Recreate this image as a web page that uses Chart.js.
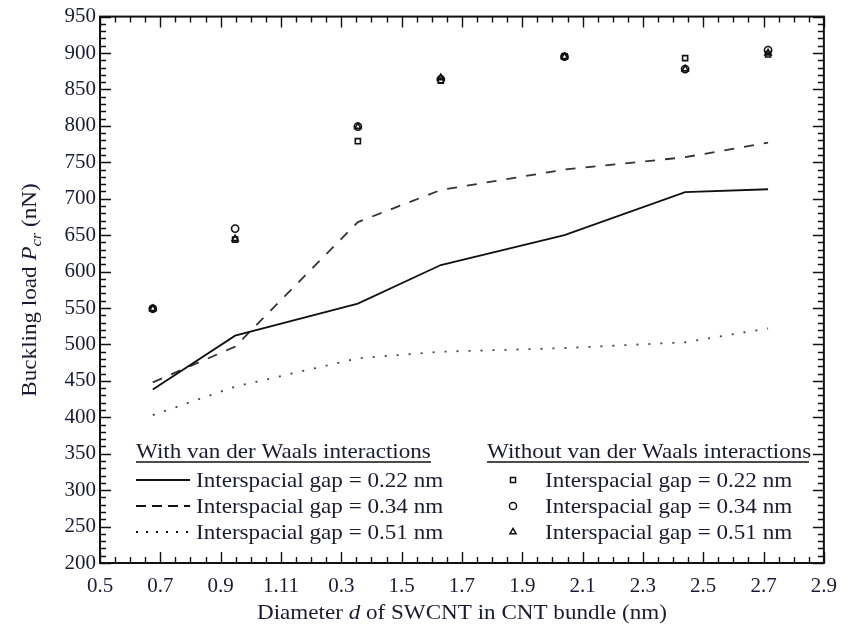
<!DOCTYPE html>
<html lang="en">
<head>
  <meta charset="UTF-8">
  <title>Buckling load of SWCNT bundle</title>
  <style>
    html, body { margin: 0; padding: 0; background: #fff; }
    #wrap { width: 848px; height: 629px; }
  </style>
  <script src="https://cdn.jsdelivr.net/npm/chart.js"></script>
</head>
<body>
  <div id="wrap"><canvas id="bucklingChart" width="848" height="629"></canvas></div>

  <script>
    // SWCNT diameter in the bundle (nm)
    const diameters = [0.675, 0.948, 1.355, 1.63, 2.04, 2.44, 2.715];

    // with van der Waals interactions (lines), buckling load in nN
    const vdwGap022 = [438, 512, 556, 609, 650, 709, 713];
    const vdwGap034 = [448, 497, 668, 712, 740, 757, 777];
    const vdwGap051 = [403, 442, 481, 490, 495, 503, 522];

    // without van der Waals interactions (markers)
    const noVdwGap022 = [549, 644, 779, 862, 895, 893, 898];
    const noVdwGap034 = [549, 659, 799, 864, 895, 878, 904];
    const noVdwGap051 = [549, 645, 799, 866, 895, 878, 900];

    // tick labels, printed as in the original figure
    const xTickLabels = ['0.5', '0.7', '0.9', '1.11', '0.3', '1.5', '1.7', '1.9', '2.1', '2.3', '2.5', '2.7', '2.9'];
    const yTickLabels = ['200', '250', '300', '350', '400', '450', '500', '550', '600', '650', '700', '750', '800', '850', '900', '950'];

    const legendLeft = ['Interspacial gap = 0.22 nm', 'Interspacial gap = 0.34 nm', 'Interspacial gap = 0.51 nm'];
    const legendRight = ['Interspacial gap = 0.22 nm', 'Interspacial gap = 0.34 nm', 'Interspacial gap = 0.51 nm'];

    const SERIF = '"Liberation Serif", "Times New Roman", serif';
    const INK = '#111';
    const TEXT = '#1c1a33';
    const STRETCH = 1.1;   // the printed figure is a bit wider than plain Times

    function toPoints(values) {
      return diameters.map((d, i) => ({ x: d, y: values[i] }));
    }

    function lineSet(label, values, dash, color) {
      return {
        label: label,
        data: toPoints(values),
        showLine: true,
        borderColor: color,
        borderWidth: 1.8,
        borderDash: dash,
        pointRadius: 0,
        tension: 0,
        fill: false
      };
    }

    function markerSet(label, values, style) {
      return {
        label: label,
        data: toPoints(values),
        showLine: false,
        pointStyle: style,
        pointRadius: 3.6,
        pointBorderWidth: 1.6,
        pointBorderColor: INK,
        pointBackgroundColor: 'rgba(255,255,255,0)'
      };
    }

    // draws a run of text pieces [text, fontPrefix, size, dy], stretched a little in x
    function drawRun(ctx, parts, x, y, centered) {
      let total = 0;
      parts.forEach(p => { ctx.font = p[1] + p[2] + 'px ' + SERIF; total += ctx.measureText(p[0]).width; });
      ctx.save();
      ctx.translate(x, y);
      ctx.scale(STRETCH, 1);
      let cx = centered ? -total / 2 : 0;
      parts.forEach(p => {
        ctx.font = p[1] + p[2] + 'px ' + SERIF;
        ctx.fillText(p[0], cx, p[3]);
        cx += ctx.measureText(p[0]).width;
      });
      ctx.restore();
    }

    // frame, inward ticks on all four sides, legend and axis titles
    const decorPlugin = {
      id: 'decor',
      afterDraw(chart) {
        const ctx = chart.ctx;
        const a = chart.chartArea;
        const xs = chart.scales.x;
        const ys = chart.scales.y;
        ctx.save();

        ctx.strokeStyle = INK;
        ctx.lineWidth = 1.4;
        ctx.beginPath();
        for (let i = 0; i <= 48; i++) {
          const px = Math.round(xs.getPixelForValue(0.5 + i * 0.05)) + 0.5;
          const len = i % 4 === 0 ? 11 : 6;
          ctx.moveTo(px, a.bottom); ctx.lineTo(px, a.bottom - len);
          ctx.moveTo(px, a.top); ctx.lineTo(px, a.top + len);
        }
        for (let i = 0; i <= 75; i++) {
          const py = Math.round(ys.getPixelForValue(200 + i * 10)) + 0.5;
          const len = i % 5 === 0 ? 11 : 6;
          ctx.moveTo(a.left, py); ctx.lineTo(a.left + len, py);
          ctx.moveTo(a.right, py); ctx.lineTo(a.right - len, py);
        }
        ctx.stroke();

        ctx.lineWidth = 2;
        ctx.strokeRect(a.left, a.top, a.right - a.left, a.bottom - a.top);

        ctx.fillStyle = TEXT;
        ctx.textBaseline = 'alphabetic';
        ctx.textAlign = 'left';

        // legend, left block (lines)
        drawRun(ctx, [['With van der Waals interactions', '', 21, 0]], 136, 458, false);
        ctx.lineWidth = 1.5;
        ctx.beginPath(); ctx.moveTo(136, 462); ctx.lineTo(431, 462); ctx.stroke();
        const dashes = [[], [10, 6], [2, 8]];
        const rowsY = [480, 506, 532];
        for (let i = 0; i < 3; i++) {
          ctx.setLineDash(dashes[i]);
          ctx.lineWidth = 1.8;
          ctx.beginPath(); ctx.moveTo(136, rowsY[i]); ctx.lineTo(190, rowsY[i]); ctx.stroke();
          ctx.setLineDash([]);
          drawRun(ctx, [[legendLeft[i], '', 21, 0]], 196, rowsY[i] + 7, false);
        }

        // legend, right block (markers)
        drawRun(ctx, [['Without van der Waals interactions', '', 21, 0]], 487, 458, false);
        ctx.lineWidth = 1.5;
        ctx.beginPath(); ctx.moveTo(487, 462); ctx.lineTo(809, 462); ctx.stroke();
        const styles = ['rect', 'circle', 'triangle'];
        for (let i = 0; i < 3; i++) {
          ctx.fillStyle = '#fff';
          ctx.strokeStyle = INK;
          ctx.lineWidth = 1.5;
          Chart.helpers.drawPoint(ctx, { pointStyle: styles[i], radius: 3.6, borderWidth: 1.5 }, 513, rowsY[i]);
          ctx.fillStyle = TEXT;
          drawRun(ctx, [[legendRight[i], '', 21, 0]], 545, rowsY[i] + 7, false);
        }

        // x axis title with italic d
        drawRun(ctx, [['Diameter ', '', 21, 0], ['d', 'italic ', 21, 0], [' of SWCNT in CNT bundle (nm)', '', 21, 0]],
          (a.left + a.right) / 2, 619, true);

        // y axis title with italic P and subscript cr
        ctx.translate(36, 290);
        ctx.rotate(-Math.PI / 2);
        drawRun(ctx, [['Buckling load ', '', 21, 0], ['P', 'italic ', 21, 0], ['cr', 'italic ', 15, 5], [' (nN)', '', 21, 0]],
          0, 0, true);

        ctx.restore();
      }
    };

    const ctx = document.getElementById('bucklingChart').getContext('2d');

    new Chart(ctx, {
      type: 'scatter',
      data: {
        datasets: [
          lineSet('With vdW, gap 0.22 nm', vdwGap022, [], INK),
          lineSet('With vdW, gap 0.34 nm', vdwGap034, [10, 10], '#333'),
          lineSet('With vdW, gap 0.51 nm', vdwGap051, [2, 10], '#444'),
          markerSet('Without vdW, gap 0.22 nm', noVdwGap022, 'rect'),
          markerSet('Without vdW, gap 0.34 nm', noVdwGap034, 'circle'),
          markerSet('Without vdW, gap 0.51 nm', noVdwGap051, 'triangle')
        ]
      },
      options: {
        responsive: false,
        devicePixelRatio: 1,
        animation: false,
        layout: { padding: { top: 16, right: 14, bottom: 0, left: 0 } },
        plugins: {
          legend: { display: false },
          tooltip: { enabled: false }
        },
        scales: {
          x: {
            type: 'linear',
            min: 0.5,
            max: 2.9,
            afterBuildTicks(scale) {
              scale.ticks = xTickLabels.map((t, i) => ({ value: 0.5 + 0.2 * i }));
            },
            afterFit(scale) { scale.height = 66; },
            grid: { display: false, drawTicks: false },
            border: { display: false },
            ticks: {
              autoSkip: false,
              maxRotation: 0,
              padding: 11,
              color: TEXT,
              font: { family: SERIF, size: 21 },
              callback: (v, i) => xTickLabels[i]
            }
          },
          y: {
            type: 'linear',
            min: 200,
            max: 950,
            afterBuildTicks(scale) {
              scale.ticks = yTickLabels.map(t => ({ value: Number(t) }));
            },
            afterFit(scale) { scale.width = 100; },
            grid: { display: false, drawTicks: false },
            border: { display: false },
            ticks: {
              autoSkip: false,
              padding: 4,
              color: TEXT,
              font: { family: SERIF, size: 21 },
              callback: (v, i) => yTickLabels[i]
            }
          }
        }
      },
      plugins: [decorPlugin]
    });
  </script>
</body>
</html>
